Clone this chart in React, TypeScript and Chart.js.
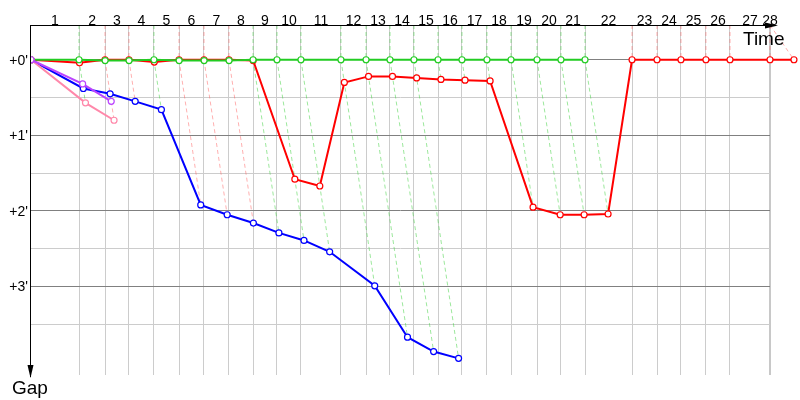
import React, { useEffect, useRef } from 'react';
import { Chart, registerables } from 'chart.js';

Chart.register(...registerables);

// Lap numbers shown along the top (time) axis
const lapLabels = ['1','2','3','4','5','6','7','8','9','10','11','12','13','14','15','16','17','18','19','20','21','22','23','24','25','26','27','28'];

// Race time (minutes) at which the leader completed each lap
const leaderLapTimes = [4.25, 6.55, 8.67, 10.88, 13.10, 15.31, 17.52, 19.65, 21.77, 23.89, 27.43, 29.65, 31.77, 33.89, 36.02, 38.14, 40.35, 42.48, 44.78, 46.90, 49.03, 53.19, 55.40, 57.52, 59.73, 61.86, 65.40, 67.52];

// Which group led each lap (G = green, R = red)
const leaderGroup = ['G','R','R','G','R','R','R','G','G','G','G','G','G','G','G','G','G','G','G','G','G','R','R','R','R','R','R','R'];

// Gap to the leader (minutes) per lap, for each group
const greenGaps = [0, 0.01, 0.01, 0, 0.01, 0.01, 0.01, 0, 0, 0, 0, 0, 0, 0, 0, 0, 0, 0, 0, 0, 0];
const redGaps = [0.04, 0, 0, 0.03, 0, 0, 0, 0.01, 1.58, 1.67, 0.30, 0.22, 0.22, 0.24, 0.26, 0.27, 0.28, 1.95, 2.05, 2.05, 2.04, 0, 0, 0, 0, 0, 0, 0];
const blueGaps = [0.38, 0.45, 0.55, 0.66, 1.92, 2.05, 2.16, 2.29, 2.39, 2.54, 2.99, 3.67, 3.86, 3.95];
const purpleGaps = [0.32, 0.55];
const pinkGaps = [0.57, 0.80];

// Gap axis grid values and labels
const gapGridValues = [0, 0.5, 1, 1.5, 2, 2.5, 3, 3.5];
const gapLabelValues = [0, 1, 2, 3];
const gapLabels = ["+0'", "+1'", "+2'", "+3'"];

const timeMax = 65.4;
const gapMin = -0.46;
const gapMax = 4.17;

const allGaps = [greenGaps, redGaps, blueGaps, purpleGaps, pinkGaps];

function groupPoints(gaps: number[]) {
  return [{ x: 0, y: 0 }, ...gaps.map((g, i) => ({ x: leaderLapTimes[i] + g, y: g }))];
}

function dashedPoints(who: string) {
  const pts: any[] = [];
  leaderLapTimes.forEach((t, i) => {
    if (leaderGroup[i] !== who) return;
    const gs = allGaps.map((a) => a[i]).filter((v) => v !== undefined);
    const maxGap = Math.max(...gs);
    pts.push({ x: Math.min(t, timeMax), y: gapMin }, { x: t, y: 0 }, { x: t + maxGap, y: maxGap }, { x: t, y: null });
  });
  return pts;
}

const FONT = "'Liberation Sans', Arial, sans-serif";

const decorPlugin = {
  id: 'decor',
  afterDatasetsDraw(chart: any) {
    const { ctx, chartArea: a, scales } = chart;
    const x = scales.x;
    const y = scales.y;
    ctx.save();
    // points of the series that lie past the right edge of the plot
    const wide = { left: 0, top: 0, right: chart.width, bottom: chart.height };
    chart.data.datasets.forEach((ds: any, di: number) => {
      if (!ds.series) return;
      const meta = chart.getDatasetMeta(di);
      meta.data.forEach((el: any) => {
        if (el.x > a.right + 3) el.draw(ctx, wide);
      });
    });
    ctx.restore();

    ctx.save();
    ctx.strokeStyle = '#000';
    ctx.fillStyle = '#000';
    ctx.lineWidth = 1;
    // top (time) axis
    const ty = Math.round(a.top) + 0.5;
    ctx.beginPath();
    ctx.moveTo(a.left - 1, ty);
    ctx.lineTo(a.right + 5, ty);
    ctx.stroke();
    ctx.beginPath();
    ctx.moveTo(a.right + 8, ty);
    ctx.lineTo(a.right - 5, ty - 3);
    ctx.lineTo(a.right - 5, ty + 3);
    ctx.closePath();
    ctx.fill();
    // left (gap) axis
    const lx = Math.round(a.left) - 0.5;
    ctx.beginPath();
    ctx.moveTo(lx, a.top);
    ctx.lineTo(lx, a.bottom + 2);
    ctx.stroke();
    ctx.beginPath();
    ctx.moveTo(lx, a.bottom + 3);
    ctx.lineTo(lx - 3, a.bottom - 10);
    ctx.lineTo(lx + 3, a.bottom - 10);
    ctx.closePath();
    ctx.fill();

    // lap labels
    ctx.font = `14px ${FONT}`;
    ctx.textAlign = 'center';
    ctx.textBaseline = 'alphabetic';
    lapLabels.forEach((lab, i) => {
      const prev = i === 0 ? 0 : leaderLapTimes[i - 1];
      const mid = (prev + leaderLapTimes[i]) / 2;
      const px = Math.min(x.getPixelForValue(mid), a.right);
      ctx.fillText(lab, px, a.top - 0.5);
    });

    // gap labels
    ctx.font = `14px ${FONT}`;
    ctx.textAlign = 'right';
    ctx.textBaseline = 'middle';
    gapLabelValues.forEach((v, i) => {
      ctx.fillText(gapLabels[i], a.left - 3, y.getPixelForValue(v) + 1);
    });

    // axis titles
    ctx.font = `19px ${FONT}`;
    ctx.textAlign = 'left';
    ctx.textBaseline = 'alphabetic';
    ctx.fillText('Time', a.right - 27, a.top + 20);
    ctx.fillText('Gap', a.left - 19, a.bottom + 19);
    ctx.restore();
  },
};

const seriesStyle = (color: string) => ({
  series: true,
  borderColor: color,
  backgroundColor: '#ffffff',
  borderWidth: 2,
  pointRadius: 3,
  pointBorderWidth: 1.2,
  pointBackgroundColor: '#ffffff',
  pointBorderColor: color,
  tension: 0,
  clip: { left: 0, top: 0, right: false, bottom: 0 } as any,
});

const dashStyle = (color: string) => ({
  borderColor: color,
  borderWidth: 1,
  borderDash: [4, 3],
  pointRadius: 0,
  spanGaps: false,
  tension: 0,
  clip: { left: 0, top: 0, right: false, bottom: 0 } as any,
});

export default function App() {
  const ref = useRef<HTMLCanvasElement | null>(null);
  useEffect(() => {
    if (!ref.current) return;
    const chart = new Chart(ref.current, {
      type: 'line',
      data: {
        datasets: [
          { label: 'purple', data: groupPoints(purpleGaps), ...seriesStyle('#bb44ff') },
          { label: 'pink', data: groupPoints(pinkGaps), ...seriesStyle('#ff88aa') },
          { label: 'green', data: groupPoints(greenGaps), ...seriesStyle('#22cc22') },
          { label: 'red', data: groupPoints(redGaps), ...seriesStyle('#ff0000') },
          { label: 'blue', data: groupPoints(blueGaps), ...seriesStyle('#0000ff') },
          { label: 'leadG', data: dashedPoints('G'), ...dashStyle('rgba(60,210,60,0.5)') },
          { label: 'leadR', data: dashedPoints('R'), ...dashStyle('rgba(255,80,80,0.45)') },
        ] as any,
      },
      options: {
        animation: false,
        responsive: false,
        events: [],
        layout: { padding: { left: 31, right: 30, top: 25, bottom: 25 } },
        plugins: { legend: { display: false }, tooltip: { enabled: false } },
        scales: {
          x: {
            type: 'linear',
            bounds: 'data',
            ticks: { display: false },
            border: { display: false },
            grid: {
              drawTicks: false,
              color: (c: any) => (c.tick && Math.abs(c.tick.value - timeMax) < 1e-6 ? '#c8c8c8' : '#cccccc'),
              lineWidth: (c: any) => (c.tick && Math.abs(c.tick.value - timeMax) < 1e-6 ? 2 : 1),
            },
            afterDataLimits: (s: any) => {
              s.min = 0;
              s.max = timeMax;
            },
            afterBuildTicks: (s: any) => {
              s.min = 0;
              s.max = timeMax;
              s.ticks = leaderLapTimes.filter((t) => t <= timeMax + 1e-6).map((v) => ({ value: v }));
            },
          },
          y: {
            type: 'linear',
            bounds: 'data',
            reverse: true,
            ticks: { display: false },
            border: { display: false },
            grid: {
              drawTicks: false,
              color: (c: any) => (c.tick && c.tick.value % 1 === 0 ? '#808080' : '#cccccc'),
              lineWidth: 1,
            },
            afterDataLimits: (s: any) => {
              s.min = gapMin;
              s.max = gapMax;
            },
            afterBuildTicks: (s: any) => {
              s.min = gapMin;
              s.max = gapMax;
              s.ticks = gapGridValues.map((v) => ({ value: v }));
            },
          },
        },
      } as any,
      plugins: [decorPlugin],
    });
    return () => chart.destroy();
  }, []);
  return (
    <div style={{ position: 'fixed', left: 0, top: 0, width: 800, height: 400, background: '#fff' }}>
      <canvas ref={ref} width={800} height={400} style={{ width: 800, height: 400, display: 'block' }} />
    </div>
  );
}
